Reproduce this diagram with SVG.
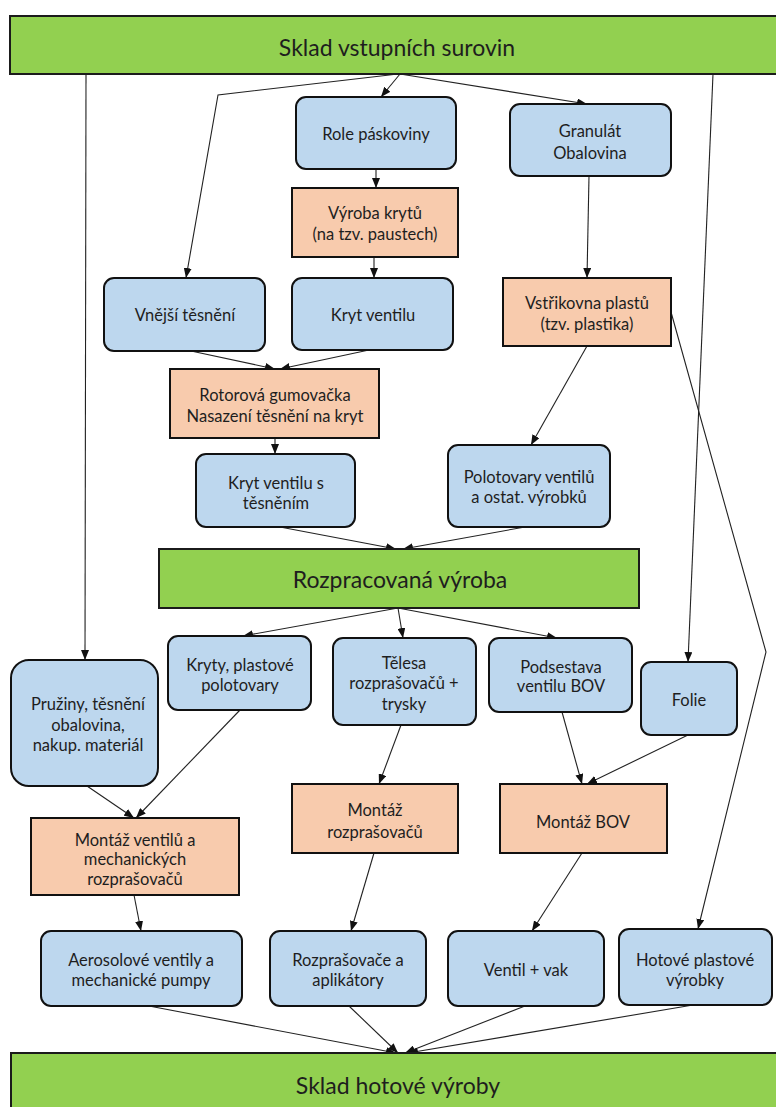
<svg xmlns="http://www.w3.org/2000/svg" width="776" height="1107" viewBox="0 0 776 1107">
<style>
.bar{fill:#92D050;stroke:#1b1b1b;stroke-width:2}
.blue{fill:#BDD7EE;stroke:#111;stroke-width:2}
.orange{fill:#F8CBAD;stroke:#111;stroke-width:2}
text{font-family:Lato,"Liberation Sans",sans-serif;fill:#1e1e1e;text-anchor:middle;dominant-baseline:central}
.t{font-size:16.5px}
.big{font-size:23px}
.conn line,.conn polyline{fill:none;stroke:#222;stroke-width:1.1;marker-end:url(#ah)}
</style>
<defs>
<marker id="ah" markerUnits="userSpaceOnUse" markerWidth="10" markerHeight="8" refX="10" refY="4" orient="auto">
<path d="M0,0 L10,4 L0,8 z" fill="#111"/>
</marker>
</defs>
<rect width="776" height="1107" fill="#fff"/>
<g class="conn">
<line x1="86" y1="74" x2="85" y2="660"/>
<polyline points="398,74 218,95 186,278"/>
<line x1="400" y1="74" x2="381" y2="97"/>
<line x1="400" y1="74" x2="587" y2="104"/>
<line x1="713" y1="74" x2="688" y2="662"/>
<line x1="376" y1="169" x2="376" y2="188"/>
<line x1="374" y1="257" x2="374" y2="278"/>
<line x1="589" y1="176" x2="587" y2="278"/>
<line x1="191" y1="351" x2="275" y2="369"/>
<line x1="369" y1="350" x2="280" y2="369"/>
<line x1="275" y1="438" x2="275" y2="454"/>
<line x1="587" y1="346" x2="531" y2="445"/>
<polyline points="671,312 766,652 698,929"/>
<line x1="280" y1="527" x2="396" y2="549"/>
<line x1="525" y1="527" x2="403" y2="549"/>
<line x1="398" y1="608" x2="243" y2="636"/>
<line x1="398" y1="608" x2="403" y2="638"/>
<line x1="398" y1="608" x2="557" y2="638"/>
<line x1="87" y1="786" x2="134" y2="818"/>
<line x1="240" y1="710" x2="136" y2="818"/>
<line x1="401" y1="725" x2="379" y2="784"/>
<line x1="562" y1="712" x2="582" y2="784"/>
<line x1="688" y1="735" x2="587" y2="784"/>
<line x1="134" y1="895" x2="141" y2="931"/>
<line x1="374" y1="853" x2="351" y2="931"/>
<line x1="582" y1="853" x2="532" y2="931"/>
<line x1="149" y1="1006" x2="396" y2="1053"/>
<line x1="349" y1="1006" x2="398" y2="1053"/>
<line x1="525" y1="1006" x2="405" y2="1053"/>
<line x1="693" y1="1005" x2="408" y2="1053"/>
</g>
<g id="sklad-vstup"><rect class="bar" x="10" y="16" width="775" height="58"/><text class="big" x="397" y="47">Sklad vstupních surovin</text></g>
<g id="role"><rect class="blue" x="296" y="97" width="160" height="72" rx="10"/><text class="t" x="376" y="134">Role páskoviny</text></g>
<g id="granulat"><rect class="blue" x="510" y="104" width="161" height="72" rx="10"/><text class="t" x="590" y="131">Granulát</text><text class="t" x="590" y="153">Obalovina</text></g>
<g id="vyroba-krytu"><rect class="orange" x="292" y="188" width="166" height="69"/><text class="t" x="375" y="213">Výroba krytů</text><text class="t" x="375" y="234">(na tzv. paustech)</text></g>
<g id="vnejsi"><rect class="blue" x="104" y="278" width="161" height="73" rx="10"/><text class="t" x="185" y="315">Vnější těsnění</text></g>
<g id="kryt-ventilu"><rect class="blue" x="292" y="278" width="161" height="72" rx="10"/><text class="t" x="373" y="315">Kryt ventilu</text></g>
<g id="vstrikovna"><rect class="orange" x="503" y="278" width="168" height="68"/><text class="t" x="587" y="303">Vstřikovna plastů</text><text class="t" x="587" y="324">(tzv. plastika)</text></g>
<g id="rotorova"><rect class="orange" x="170" y="369" width="209" height="69"/><text class="t" x="275" y="395">Rotorová gumovačka</text><text class="t" x="275" y="416">Nasazení těsnění na kryt</text></g>
<g id="kryt-tesneni"><rect class="blue" x="196" y="454" width="159" height="73" rx="10"/><text class="t" x="276" y="483">Kryt ventilu s</text><text class="t" x="276" y="503">těsněním</text></g>
<g id="polotovary"><rect class="blue" x="448" y="445" width="162" height="82" rx="10"/><text class="t" x="529" y="477">Polotovary ventilů</text><text class="t" x="529" y="497">a ostat. výrobků</text></g>
<g id="rozpracovana"><rect class="bar" x="159" y="549" width="480" height="59"/><text class="big" x="400" y="579">Rozpracovaná výroba</text></g>
<g id="pruziny"><rect class="blue" x="11" y="660" width="147" height="126" rx="18"/><text class="t" x="88" y="704">Pružiny, těsnění</text><text class="t" x="88" y="725">obalovina,</text><text class="t" x="88" y="745">nakup. materiál</text></g>
<g id="kryty"><rect class="blue" x="168" y="636" width="143" height="74" rx="10"/><text class="t" x="240" y="665">Kryty, plastové</text><text class="t" x="240" y="685">polotovary</text></g>
<g id="telesa"><rect class="blue" x="333" y="638" width="143" height="87" rx="10"/><text class="t" x="404" y="663">Tělesa</text><text class="t" x="404" y="683">rozprašovačů +</text><text class="t" x="404" y="704">trysky</text></g>
<g id="podsestava"><rect class="blue" x="489" y="638" width="143" height="74" rx="10"/><text class="t" x="561" y="667">Podsestava</text><text class="t" x="561" y="686">ventilu BOV</text></g>
<g id="folie"><rect class="blue" x="641" y="662" width="96" height="73" rx="10"/><text class="t" x="689" y="700">Folie</text></g>
<g id="montaz-ventilu"><rect class="orange" x="31" y="818" width="208" height="77"/><text class="t" x="135" y="840">Montáž ventilů a</text><text class="t" x="135" y="859">mechanických</text><text class="t" x="135" y="879">rozprašovačů</text></g>
<g id="montaz-rozpr"><rect class="orange" x="292" y="784" width="166" height="69"/><text class="t" x="375" y="810">Montáž</text><text class="t" x="375" y="832">rozprašovačů</text></g>
<g id="montaz-bov"><rect class="orange" x="500" y="784" width="167" height="69"/><text class="t" x="583" y="822">Montáž BOV</text></g>
<g id="aerosolove"><rect class="blue" x="41" y="931" width="201" height="75" rx="10"/><text class="t" x="141" y="960">Aerosolové ventily a</text><text class="t" x="141" y="980">mechanické pumpy</text></g>
<g id="rozprasovace"><rect class="blue" x="270" y="931" width="156" height="75" rx="10"/><text class="t" x="348" y="960">Rozprašovače a</text><text class="t" x="348" y="980">aplikátory</text></g>
<g id="ventil-vak"><rect class="blue" x="448" y="931" width="156" height="75" rx="10"/><text class="t" x="526" y="970">Ventil + vak</text></g>
<g id="hotove-plastove"><rect class="blue" x="619" y="929" width="153" height="76" rx="10"/><text class="t" x="695" y="960">Hotové plastové</text><text class="t" x="695" y="980">výrobky</text></g>
<g id="sklad-hotove"><rect class="bar" x="11" y="1053" width="775" height="60"/><text class="big" x="398" y="1085">Sklad hotové výroby</text></g>
</svg>
